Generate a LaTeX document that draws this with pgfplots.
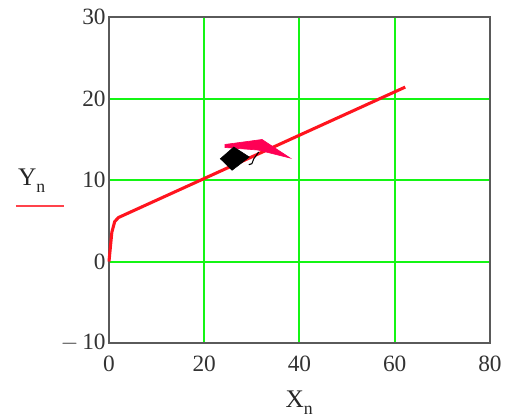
\documentclass[border=0pt]{standalone}
\usepackage{pgfplots}
\pgfplotsset{compat=1.18}
\usepackage{fontspec}
\setmainfont{Liberation Serif}
\definecolor{gridgreen}{RGB}{20,245,20}
\definecolor{lred}{RGB}{255,20,30}
\definecolor{tri}{RGB}{255,0,85}
\definecolor{frame}{RGB}{90,90,90}
\begin{document}
\begin{tikzpicture}
\path[use as bounding box] (-81.75pt,-57pt) rectangle (302.25pt,257.25pt);
\begin{axis}[
  scale only axis,
  width=285.75pt, height=244.5pt,
  xmin=0, xmax=80, ymin=-10, ymax=30,
  xtick={0,20,40,60,80}, ytick={-10,0,10,20,30},
  yticklabels={$-\,$10,0,10,20,30},
  grid=major,
  major grid style={gridgreen, line width=1.5pt},
  major tick length=0pt,
  axis line style={frame, line width=1.7pt},
  tick label style={font=\fontsize{17.5}{19}\selectfont, text=black!80},
  /pgf/number format/assume math mode=true,
  xticklabel style={yshift=-6pt},
  yticklabel style={xshift=1pt},
  clip=false,
  axis on top=false,
]
\addplot[lred, line width=2.3pt, line join=round] coordinates {
  (0,0) (0.25,1.5) (0.6,3.6) (1.2,4.9) (2,5.4) (62.2,21.4)
};
\addplot[fill=tri, draw=tri, line width=0.5pt] coordinates {
  (24.37,14.36) (32.14,14.97) (38.03,12.70) (31.30,13.68) (24.37,13.99)
} -- cycle;
\addplot[fill=black, draw=black] coordinates {
  (26.2,14.05) (29.47,12.82) (25.84,11.19) (23.38,12.61)
} -- cycle;
\addplot[black, line width=0.8pt] coordinates {
  (29.35,11.88) (30.0,12.0) (30.4,12.6) (31.45,13.44)
};
\end{axis}
\node[font=\fontsize{19}{21}\selectfont, text=black!85] at (142.9pt,-45pt) {X\raisebox{-0.3ex}{\textsubscript{n}}};
\node[font=\fontsize{19}{21}\selectfont, text=black!85] at (-57.75pt,121.5pt) {Y\raisebox{-0.3ex}{\textsubscript{n}}};
\draw[lred!80, line width=1.8pt] (-69.75pt,102.75pt) -- (-33.75pt,102.75pt);
\end{tikzpicture}
\end{document}
